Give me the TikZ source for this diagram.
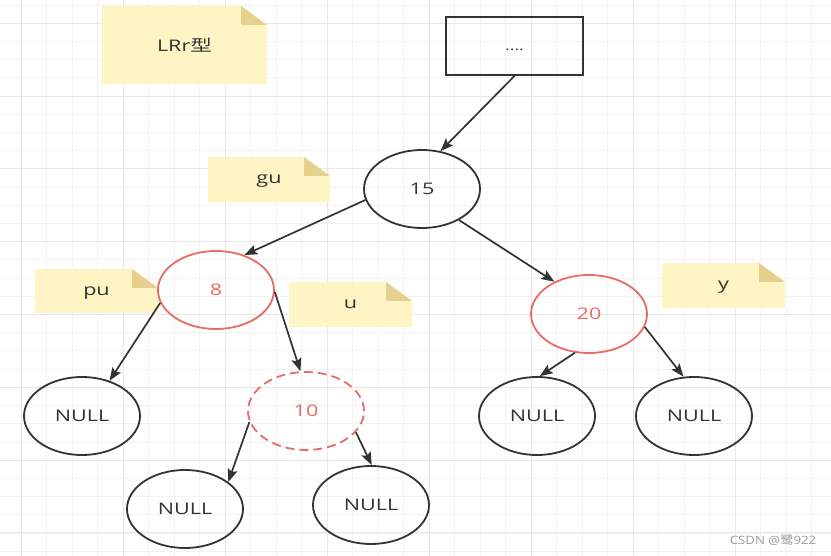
\documentclass[tikz,border=0pt]{standalone}
\usepackage{fontspec}
\setmainfont{Open Sans}
\newfontfamily\cjk{Noto Sans CJK SC}
\usepackage{graphicx,xcolor}
\definecolor{edgegray}{HTML}{333333}
\definecolor{nodered}{HTML}{EA6B66}
\definecolor{notebg}{HTML}{FFF4C3}
\definecolor{notefold}{HTML}{E6D08E}
\definecolor{gridminor}{HTML}{F2F2F2}
\definecolor{gridmajor}{HTML}{E8E8E8}
\definecolor{markgray}{HTML}{9A9A9A}
\usetikzlibrary{arrows.meta,positioning,shapes.geometric}

% wide labels (the drawing is stretched sideways)
\newcommand{\wide}[1]{\scalebox{1.35}[1]{#1}}
% sticky note: name, x1, y1, x2, y2, text
\newcommand{\stickynote}[6]{%
  \fill[notebg] (#2,#3) -- (#4-26,#3) -- (#4,#3+19) -- (#4,#5) -- (#2,#5) -- cycle;
  \fill[notefold] (#4-26,#3) -- (#4-26,#3+19) -- (#4,#3+19) -- cycle;
  \node[notetext] (#1) at ({(#2+#4)/2},{(#3+#5)/2}) {\wide{#6}};}

\begin{document}
\begin{tikzpicture}[x=1pt,y=-1pt,
  treenode/.style={ellipse,draw=edgegray,line width=1.8pt,inner sep=0pt,minimum width=116pt,minimum height=78pt,text=edgegray,font=\fontsize{16}{18}\selectfont},
  rednode/.style={treenode,draw=nodered,text=nodered},
  nullnode/.style={treenode},
  notetext/.style={text=edgegray,text depth=0pt,font=\fontsize{16}{18}\selectfont},
  link/.style={-{Stealth[length=13pt,width=10pt,inset=2.5pt]},edgegray,line width=1.7pt}]
  \useasboundingbox (0,0) rectangle (831,556);
  \fill[white] (0,0) rectangle (831,556);
  % Grid
  \foreach \gx in {0,...,31} \draw[gridminor,line width=0.8pt] ({21.3+25.5*\gx},0) -- ++(0,556);
  \foreach \gy in {-1,...,29} \draw[gridminor,line width=0.8pt] (0,{23.3+18.2*\gy}) -- ++(831,0);
  \foreach \gx in {0,...,7} \draw[gridmajor,line width=1pt] ({21.3+102*\gx},0) -- ++(0,556);
  \foreach \gy in {0,...,7} \draw[gridmajor,line width=1pt] (0,{23.3+72.8*\gy}) -- ++(831,0);
  % Notes
  \stickynote{lrr}{102}{6}{267}{84}{LRr{\cjk 型}}
  \stickynote{gu}{208}{157}{330}{202}{gu}
  \stickynote{pu}{35}{269}{158}{313}{pu}
  \stickynote{u}{289}{282}{412}{327}{u}
  \stickynote{y}{662}{263}{785}{308}{y}
  % Root box
  \node[draw=edgegray,line width=1.8pt,minimum width=137pt,minimum height=58pt,inner sep=0pt,text=edgegray,text height=10pt,text depth=0pt,font=\fontsize{13}{15}\selectfont] (dots) at (514.5,46) {\wide{....}};
  % Tree nodes
  \node[treenode] (n15) at (422,189) {\wide{15}};
  \node[rednode] (n8) at (216,290) {\wide{8}};
  \node[rednode] (n20) at (589,314) {\wide{20}};
  \node[rednode,dashed,dash pattern=on 9pt off 5pt] (n10) at (306,411) {\wide{10}};
  % NULL leaves
  \node[nullnode] (nullA) at (82,416) {\wide{NULL}};
  \node[nullnode] (nullB) at (185,509) {\wide{NULL}};
  \node[nullnode] (nullC) at (371,505) {\wide{NULL}};
  \node[nullnode] (nullD) at (537,416) {\wide{NULL}};
  \node[nullnode] (nullE) at (694,416) {\wide{NULL}};
  % Arrows
  \draw[link] (dots.south) -- (n15.64);
  \draw[link] (n15.191) -- (n8.51);
  \draw[link] (n15.320) -- (n20.137);
  \draw[link] (n8.193) -- (nullA.52);
  \draw[link] (n8.358) -- (n10.98);
  \draw[link] (n10.191) -- (nullB.32);
  \draw[link] (n10.337) -- (nullC.89);
  \draw[link] (n20.250) -- (nullD.86);
  \draw[link] (n20.347) -- (nullE.105);
  % Watermark
  \node[markgray,font=\fontsize{11.5}{13}\selectfont] (mark) at (773,540) {\scalebox{1.15}[1]{CSDN @{\cjk 鹭}922}};
\end{tikzpicture}
\end{document}
